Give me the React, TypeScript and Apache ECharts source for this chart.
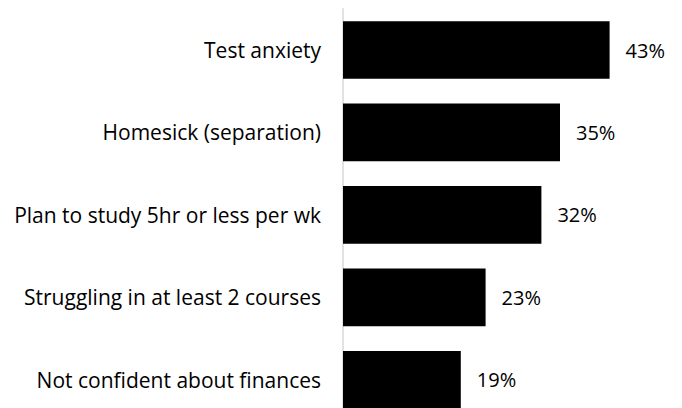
import React, { useEffect, useRef } from "react";
import * as echarts from "echarts";

const categories = [
  "Test anxiety",
  "Homesick (separation)",
  "Plan to study 5hr or less per wk",
  "Struggling in at least 2 courses",
  "Not confident about finances",
];
const values = [43, 35, 32, 23, 19];

export default function App() {
  const ref = useRef<HTMLDivElement>(null);
  useEffect(() => {
    document.body.style.margin = "0";
    const chart = echarts.init(ref.current!, null, { renderer: "svg" });
    chart.setOption({
      animation: false,
      backgroundColor: "#ffffff",
      grid: { left: 343, right: 29, top: 8.8, bottom: 0, containLabel: false },
      xAxis: {
        type: "value",
        min: 0,
        max: 50,
        show: false,
      },
      yAxis: {
        type: "category",
        data: categories,
        inverse: true,
        axisLine: { show: true, lineStyle: { color: "#d9d9d9", width: 1.5 } },
        axisTick: { show: false },
        axisLabel: {
          color: "#000000",
          fontFamily: "Open Sans",
          fontSize: 21,
          margin: 22,
        },
        splitLine: { show: false },
      },
      series: [
        {
          type: "bar",
          data: values,
          barCategoryGap: "30%",
          itemStyle: { color: "#000000" },
          label: {
            show: true,
            position: "right",
            distance: 16,
            formatter: "{c}%",
            color: "#000000",
            fontFamily: "Open Sans",
            fontSize: 20,
          },
        },
      ],
    });
    return () => chart.dispose();
  }, []);
  return (
    <div style={{ width: 682, height: 408, overflow: "hidden" }}>
      <div ref={ref} style={{ width: 682, height: 421 }} />
    </div>
  );
}
